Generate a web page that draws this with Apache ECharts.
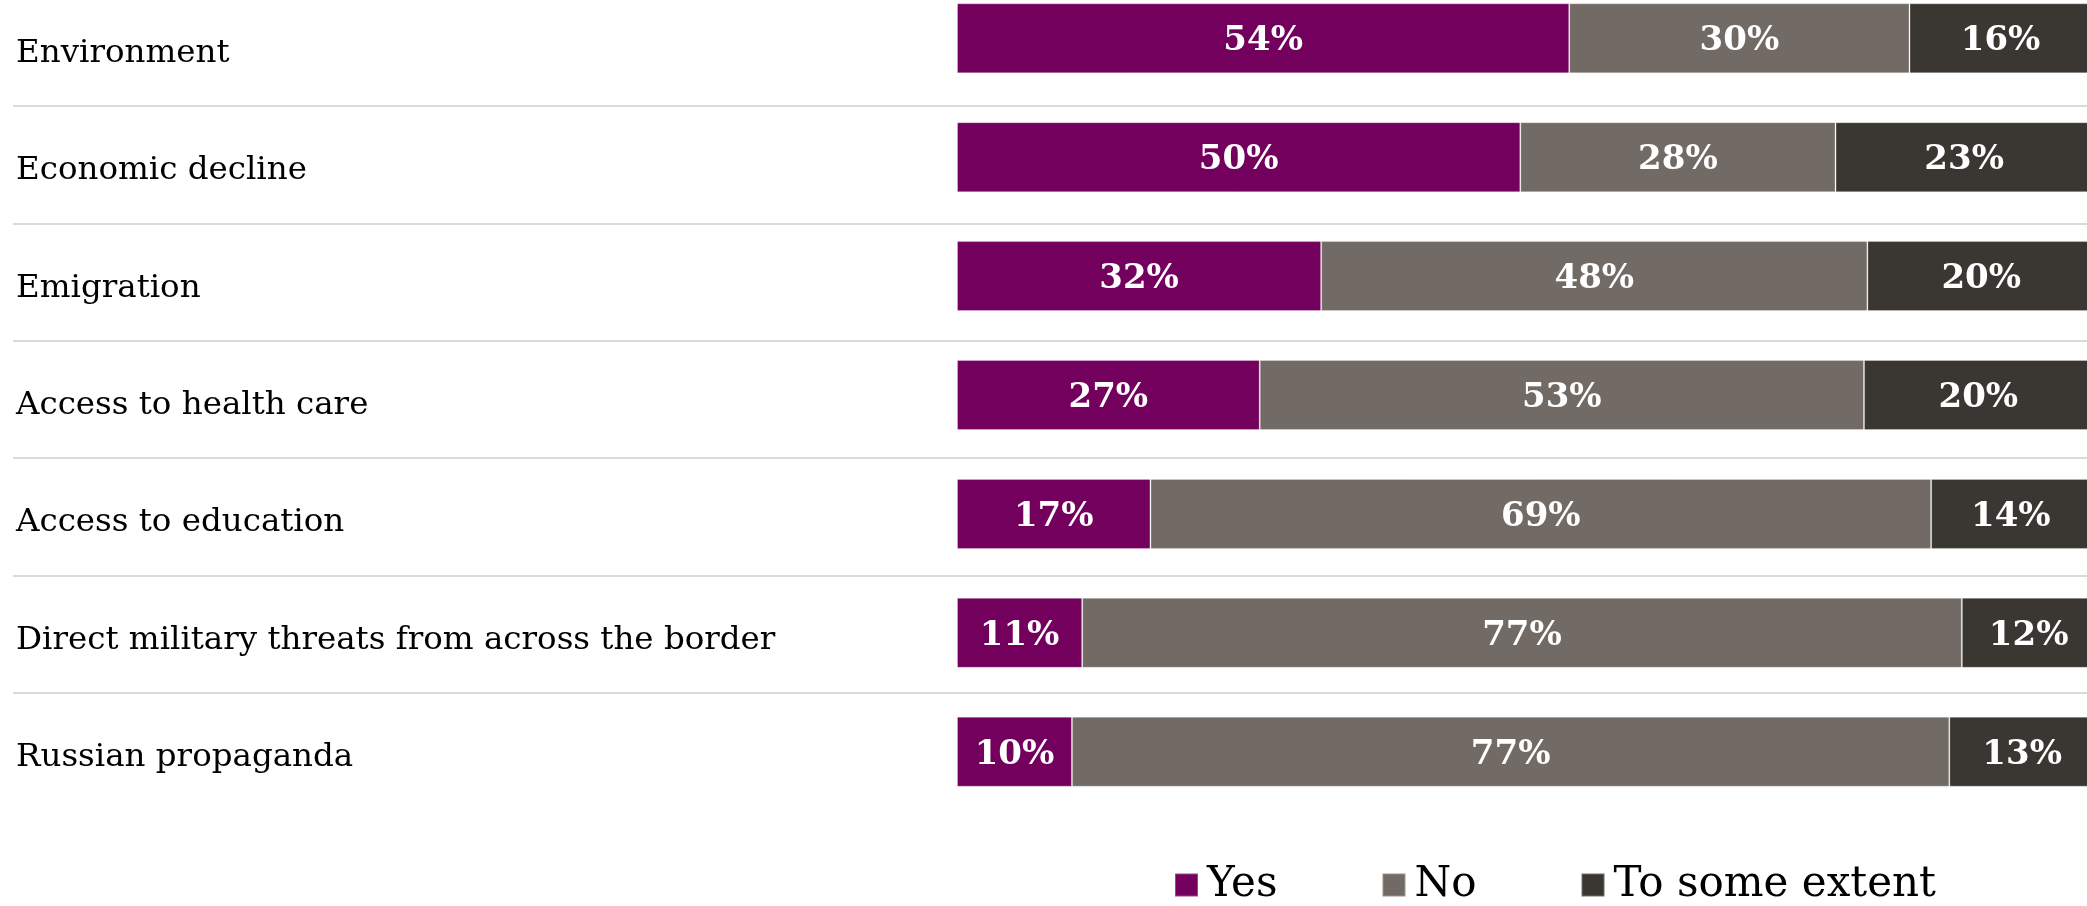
<!DOCTYPE html>
<html>
<head>
<meta charset="utf-8">
<script src="https://cdn.jsdelivr.net/npm/echarts@6/dist/echarts.min.js"></script>
<style>
  html, body { margin: 0; padding: 0; background: #ffffff; }
  #chart { width: 2087px; height: 906px; }
</style>
</head>
<body>
<div id="chart"></div>
<script>
const categories = [
  'Environment',
  'Economic decline',
  'Emigration',
  'Access to health care',
  'Access to education',
  'Direct military threats from across the border',
  'Russian propaganda'
];
const seriesNames = ['Yes', 'No', 'To some extent'];
const yesValues = [53.8, 49.5, 32.0, 26.6, 17.0, 11.0, 10.1];
const noValues = [29.9, 27.7, 48.0, 53.1, 68.6, 77.3, 77.1];
const extentValues = [16.0, 22.6, 20.0, 20.1, 14.0, 11.8, 12.8];
const colors = ['#74005E', '#726A64', '#3A3631'];

const chart = echarts.init(document.getElementById('chart'));

const labelStyle = {
  show: true,
  position: 'inside',
  offset: [0, 3],
  color: '#ffffff',
  fontFamily: 'DejaVu Serif',
  fontWeight: 'bold',
  fontSize: 34,
  formatter: p => Math.round(p.value) + '%'
};

function makeSeries(name, data, color) {
  return {
    name: name,
    type: 'bar',
    stack: 'total',
    xAxisIndex: 0,
    yAxisIndex: 0,
    barWidth: 70,
    data: data,
    itemStyle: { color: color, borderColor: 'rgba(255,255,255,0.28)', borderWidth: 1 },
    label: labelStyle,
    emphasis: { disabled: true }
  };
}

chart.setOption({
  animation: false,
  backgroundColor: '#ffffff',
  color: colors,
  legend: {
    data: seriesNames,
    left: 1174,
    top: 864,
    padding: 0,
    icon: 'rect',
    itemWidth: 23,
    itemHeight: 23,
    itemGap: 104,
    textStyle: { fontFamily: 'DejaVu Serif', fontSize: 42, color: '#000000', padding: [0, 0, 0, 4] }
  },
  grid: [
    { left: 957, top: -21.15, width: 1138, height: 832.3, containLabel: false, outerBoundsMode: 'none' },
    { left: 13, top: -11.4, right: 0, height: 821.8, containLabel: false, outerBoundsMode: 'none' }
  ],
  xAxis: [
    { type: 'value', gridIndex: 0, min: 0, max: 100, show: false },
    { type: 'value', gridIndex: 1, min: 0, max: 100, show: false }
  ],
  yAxis: [
    { type: 'category', gridIndex: 0, data: categories, inverse: true, show: false },
    {
      type: 'category', gridIndex: 1, data: categories, inverse: true,
      axisLine: { show: false },
      axisTick: { show: false },
      splitLine: { show: true, showMinLine: false, showMaxLine: false, lineStyle: { color: '#dddad6', width: 2 } },
      axisLabel: {
        inside: true, margin: 3, align: 'left',
        formatter: v => '{t|' + v + '}',
        rich: {
          t: { fontFamily: 'DejaVu Serif', fontSize: 32.5, color: '#000000', padding: [12, 0, 0, 0] }
        }
      }
    }
  ],
  series: [
    makeSeries(seriesNames[0], yesValues, colors[0]),
    makeSeries(seriesNames[1], noValues, colors[1]),
    makeSeries(seriesNames[2], extentValues, colors[2])
  ]
});
</script>
</body>
</html>
